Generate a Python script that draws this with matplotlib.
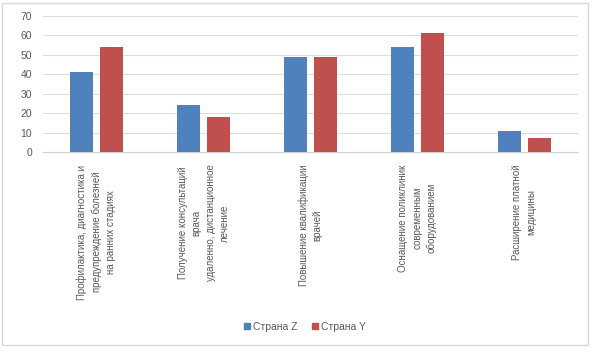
import numpy as np
import matplotlib.pyplot as plt
from matplotlib.patches import Rectangle
from matplotlib.lines import Line2D

categories = [
    "Профилактика, диагностика и\nпредупреждение болезней\nна ранних стадиях",
    "Получение консультаций\nврача\nудаленно, дистанционное\nлечение",
    "Повышение квалификации\nврачей",
    "Оснащение поликлиник\nсовременным\nоборудованием",
    "Расширение платной\nмедицины",
]
series_names = ["Страна Z", "Страна Y"]
country_z = [41, 24, 49, 54, 11]
country_y = [54, 18, 49, 61.5, 7]
y_ticks = [0, 10, 20, 30, 40, 50, 60, 70]

BLUE = "#4F81BD"
RED = "#C0504D"
TEXT = "#595959"
GRID = "#DEDEDE"

plt.rcParams["font.family"] = ["Liberation Sans", "DejaVu Sans"]

fig = plt.figure(figsize=(5.96, 3.54), dpi=100)
fig.patch.set_facecolor("white")
fig.add_artist(Rectangle((2 / 596, 1 - 345 / 354), 586 / 596, 342 / 354,
                         transform=fig.transFigure, fill=False,
                         edgecolor="#D9D9D9", linewidth=1.0))

ax = fig.add_axes([43 / 596, 1 - 152 / 354, 535 / 596, 136 / 354])
x = np.arange(len(categories))
w = 0.215
off = 0.137
ax.bar(x - off, country_z, width=w, color=BLUE, zorder=3)
ax.bar(x + off, country_y, width=w, color=RED, zorder=3)

ax.set_xlim(-0.5, len(categories) - 0.5)
ax.set_ylim(0, 70)
ax.set_yticks(y_ticks)
ax.yaxis.grid(True, color=GRID, linewidth=0.8, zorder=0)
ax.set_axisbelow(True)
for s in ["top", "right", "left"]:
    ax.spines[s].set_visible(False)
ax.spines["bottom"].set_color("#D0D0D0")
ax.tick_params(axis="both", length=0, colors=TEXT, labelsize=7.5)
ax.tick_params(axis="y", pad=8)
ax.set_xticks(x)
ax.set_xticklabels(categories, rotation=90, fontsize=7, color=TEXT,
                   ha="center", va="top", multialignment="center",
                   linespacing=1.5)
ax.tick_params(axis="x", pad=9)

handles = [Line2D([], [], marker="s", linestyle="none", markersize=5,
                  color=c) for c in (BLUE, RED)]
fig.legend(handles, series_names, loc="center", ncol=2,
           bbox_to_anchor=(304 / 596, 1 - 327 / 354), frameon=False,
           fontsize=7.5, labelcolor=TEXT, handletextpad=0.1,
           columnspacing=1.2, handlelength=1.0)

fig.savefig("out.png", dpi=100)
